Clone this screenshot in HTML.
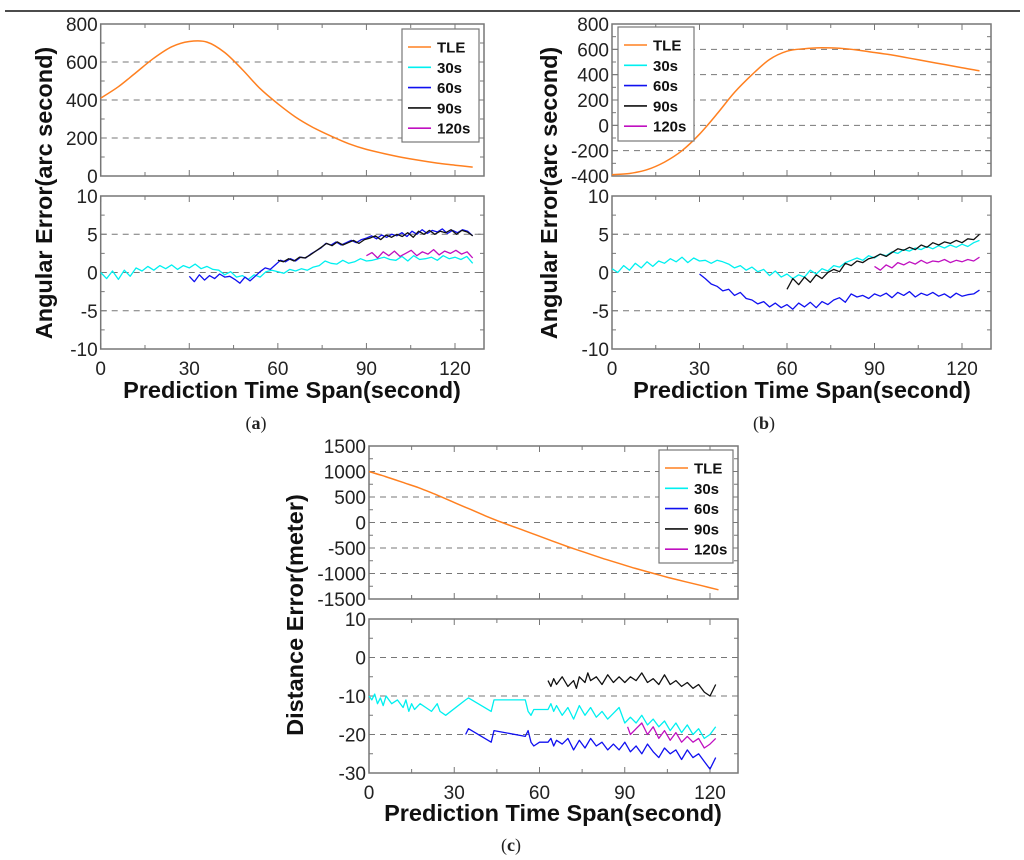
<!DOCTYPE html>
<html><head><meta charset="utf-8">
<style>
body{margin:0;background:#fff;width:1024px;height:860px;overflow:hidden}
svg{display:block}
text{font-family:"Liberation Sans",Arial,sans-serif;fill:#222}
.tk{font-size:19px}
.ttl{font-size:23.5px;font-weight:bold;fill:#111}
.lg{font-size:15px;font-weight:bold;fill:#111}
.cap{font-family:"Liberation Serif",serif;font-size:18px}
</style></head>
<body>
<svg id="fig" width="1024" height="860">
<line x1="5" y1="11" x2="1020" y2="11" stroke="#111" stroke-width="1.5"/>
</svg>
<script>
// ---------- data ----------
const colors = {TLE:"#ff8020","30s":"#00f0f0","60s":"#1010f0","90s":"#111111","120s":"#c010c0"};
const legendNames = ["TLE","30s","60s","90s","120s"];
const xTicks = [0,30,60,90,120];
// panel a
const aTopTicks = [0,200,400,600,800];
const aBotTicks = [-10,-5,0,5,10];
const aTLE = [410,470,545,620,680,708,705,650,560,460,380,310,255,210,170,140,118,98,82,68,57,47];
const a30 = [0,-0.8,0.2,-0.9,0.3,-0.5,0.6,0.2,0.8,0.3,0.9,0.5,1,0.4,0.9,0.6,1.1,0.5,0.8,0.4,0.3,-0.3,0.1,-0.6,-0.4,-0.9,-0.3,-0.6,0.1,0.3,0.1,-0.1,0.4,0.2,0.5,0.3,0.7,0.9,1.5,1.2,1.1,1.6,1.2,1.4,1.8,1.5,1.6,1.8,2,1.7,1.6,2.1,1.5,2.2,1.7,1.8,2,1.6,2.2,1.8,2.0,1.7,2.1,1.2];
const a60 = [-0.5,-1.2,-0.3,-1,-0.4,-0.8,-0.2,-0.6,-0.5,-0.9,-1.4,-0.6,-1.1,-0.5,0.1,0.6,0.4,1,1.6,1.4,1.8,1.5,2,1.9,2.4,2.8,3.2,3.8,3.6,4,3.6,3.9,4.2,3.9,4.3,4.5,4.8,4.4,4.9,4.6,5,4.8,5.2,4.7,5.4,5,5.6,5.1,5.5,5.3,5.7,5.1,5.5,5.2,5.6,5.4,4.8];
const a90 = [1.6,1.4,1.8,1.5,2,1.9,2.3,2.8,3.3,3.8,3.5,4,3.6,3.9,4.2,3.8,4.3,4.5,4.8,4.3,4.9,4.6,5,4.7,5.2,4.6,5.4,5,5.5,5,5.4,5.2,5.6,5.0,5.5,5.3,4.8];
const a120 = [2.2,2.6,1.9,2.7,2.2,2.8,2.1,2.5,2.9,2.2,2.7,2.4,3,2.3,2.8,2.5,2.9,2.4,2.7,1.9];
// panel b
const bTopTicks = [-400,-200,0,200,400,600,800];
const bBotTicks = [-10,-5,0,5,10];
const bTLE = [-390,-380,-350,-290,-200,-70,90,260,400,520,585,605,612,608,595,575,555,530,505,480,455,430];
const b30 = [0.5,0,0.9,0.3,1.2,0.6,1.4,0.8,1.5,1.2,1.8,1.4,2,1.3,1.9,1.5,1.6,1.2,1.6,1.4,1.1,0.6,0.9,0.3,0.7,0.1,0.4,-0.4,0.2,-0.6,-0.2,-0.8,-0.3,-0.6,0.3,-0.2,0.5,0.2,0.9,0.7,1.3,1.6,1.9,1.6,2.2,1.9,2.4,2.2,2.7,2.5,3,2.8,3.2,3,3.4,3.1,3.5,3.2,3.6,3.3,3.7,3.4,3.9,4.2];
const b60 = [-0.2,-0.8,-1.5,-1.8,-2.4,-2.2,-3,-2.6,-3.4,-3.6,-4.1,-3.8,-4.5,-4,-4.6,-4.2,-4.8,-4,-4.5,-3.9,-4.6,-3.8,-4.2,-3.6,-3.3,-3.9,-2.8,-3.2,-3,-3.4,-2.8,-3.1,-2.7,-3.3,-2.6,-3,-2.5,-3.2,-2.7,-3,-2.6,-3.1,-2.8,-3.3,-2.7,-3.1,-2.9,-2.8,-2.3];
const b90 = [-2.2,-0.8,-1.6,-0.6,-1.3,-0.3,-0.8,0,0.4,0.1,1.2,0.9,1.5,1.3,1.8,2,2.4,2.1,2.6,3.1,2.9,3.3,3,3.6,3.3,3.9,3.6,4,3.8,4.2,3.9,4.4,4.3,5];
const b120 = [0.8,0.3,1,0.6,1.3,1,1.4,1.1,1.6,1.2,1.5,1.4,1.7,1.3,1.6,1.4,1.7,1.5,2];
// panel c
const cTopTicks = [-1500,-1000,-500,0,500,1000,1500];
const cBotTicks = [-30,-20,-10,0,10];
const cTLE = [1000,900,790,680,550,410,270,130,0,-120,-240,-360,-480,-590,-700,-800,-900,-990,-1080,-1160,-1240,-1320];
const c30t = [0,1,2,3,4,5,6,7,8,10,12,13,14,15,16,18,20,22,24,25,27,34,35,43,44,55,56,57,58,63,64,65,66,68,70,72,74,76,78,80,82,84,86,88,90,92,94,96,98,100,102,104,106,108,110,112,114,116,118,120,122];
const c30v = [-10,-11,-9.5,-12,-10.5,-12.5,-10,-11,-12,-11,-13,-11,-14,-12,-13.5,-12,-13,-14,-12,-14,-15,-11,-10.5,-14,-11,-11,-14,-15,-13.5,-13.5,-12,-14,-12.5,-15,-13,-16,-12.5,-15,-13,-15.5,-14,-16,-14.5,-13,-17,-15.5,-17,-15,-17.5,-16,-18,-16.5,-19,-17,-19.5,-17.5,-20,-18.5,-21,-20,-18];
const c60t = [34,35,43,44,55,56,57,58,60,63,64,65,66,68,70,72,74,76,78,80,82,84,86,88,90,92,94,96,98,100,102,104,106,108,110,112,114,116,118,120,122];
const c60v = [-20,-18.5,-22,-19,-20.5,-19,-22,-23,-22,-22,-21,-23,-21.5,-22.5,-21,-24,-21.5,-23.5,-21,-23,-22,-24,-22.5,-24,-22,-24.5,-23,-25,-22.5,-24.5,-26,-23.5,-25,-24,-26.5,-24,-26,-25,-27,-29,-26];
const c90t = [63,64,65,66,68,70,72,73,74,76,77,78,80,82,84,86,88,90,92,94,96,98,100,102,104,106,108,110,112,114,116,118,120,122];
const c90v = [-6,-7.5,-5.5,-7,-5,-7.5,-6,-8,-5,-6.5,-4,-6,-5,-7,-4.5,-6.5,-5,-6.5,-5,-6,-4,-6.5,-5.5,-7,-4.5,-7,-6,-7.5,-6.5,-8,-7,-9,-10,-7];
const c120t = [91,92,94,96,98,100,102,104,106,108,110,112,114,116,118,120,122];
const c120v = [-18,-20,-18.5,-17,-20,-18,-21,-19,-21.5,-19.5,-22,-20.5,-22,-21,-23.5,-22.5,-21];

// ---------- drawing ----------
const NS="http://www.w3.org/2000/svg";
const svg=document.getElementById('fig');
function el(tag,attrs,parent){const e=document.createElementNS(NS,tag);for(const k in attrs)e.setAttribute(k,attrs[k]);(parent||svg).appendChild(e);return e;}
function evenTimes(vals,t0,t1){return vals.map((v,i)=>t0+i*(t1-t0)/(vals.length-1));}

function axes(g,box,xmax,ticks,showX,name){
  const sx=t=>box.x0+(t/120)*(box.x120-box.x0);
  const ymin=ticks[0],ymax=ticks[ticks.length-1];
  const sy=v=>box.yb+(v-ymin)/(ymax-ymin)*(box.yt-box.yb);
  ticks.slice(1,-1).forEach(v=>{
    const l=el('line',{x1:box.x0,x2:box.xr,y1:sy(v),y2:sy(v),stroke:'#777','stroke-dasharray':'6,5','stroke-width':1},g);
    
    
  });
  const r=el('rect',{x:box.x0,y:box.yt,width:box.xr-box.x0,height:box.yb-box.yt,fill:'none',stroke:'#777','stroke-width':1.5},g);
  
  
  for(let t=0;t<=xmax;t+=15){
    const len=t%30===0?6:4;
    el('line',{x1:sx(t),x2:sx(t),y1:box.yb,y2:box.yb-len,stroke:'#777'},g);
    el('line',{x1:sx(t),x2:sx(t),y1:box.yt,y2:box.yt+len,stroke:'#777'},g);
  }
  for(let i=0;i<ticks.length;i++){
    const v=ticks[i];
    el('line',{x1:box.x0,x2:box.x0+6,y1:sy(v),y2:sy(v),stroke:'#777'},g);
    el('line',{x1:box.xr,x2:box.xr-6,y1:sy(v),y2:sy(v),stroke:'#777'},g);
    if(i<ticks.length-1){const m=(v+ticks[i+1])/2;
      el('line',{x1:box.x0,x2:box.x0+4,y1:sy(m),y2:sy(m),stroke:'#777'},g);
      el('line',{x1:box.xr,x2:box.xr-4,y1:sy(m),y2:sy(m),stroke:'#777'},g);}
    const tx=el('text',{x:box.x0-3,y:sy(v)+7,'text-anchor':'end',class:'tk'},g);
    tx.textContent=v;
    
    
  }
  if(showX){xTicks.forEach(t=>{
    const tx=el('text',{x:sx(t),y:box.yb+26,'text-anchor':'middle',class:'tk'},g);
    tx.textContent=t;
    
    
  });}
  return {sx,sy};
}
function line(g,S,times,vals,color,name,w,smooth){
  const P=times.map((t,i)=>[S.sx(t),S.sy(vals[i])]);
  let d='M'+P[0][0].toFixed(1)+','+P[0][1].toFixed(1);
  for(let i=1;i<P.length;i++){
    if(smooth){
      const p0=P[Math.max(0,i-2)],p1=P[i-1],p2=P[i],p3=P[Math.min(P.length-1,i+1)];
      const c1=[p1[0]+(p2[0]-p0[0])/6,p1[1]+(p2[1]-p0[1])/6];
      const c2=[p2[0]-(p3[0]-p1[0])/6,p2[1]-(p3[1]-p1[1])/6];
      d+='C'+c1.map(v=>v.toFixed(1)).join(',')+' '+c2.map(v=>v.toFixed(1)).join(',')+' '+p2[0].toFixed(1)+','+p2[1].toFixed(1);
    } else d+='L'+P[i][0].toFixed(1)+','+P[i][1].toFixed(1);
  }
  const p=el('path',{d:d,fill:'none',stroke:color,'stroke-width':w||1.3,'stroke-linejoin':'round'},g);
  
  
}
function legend(g,x,y,w,h){
  const r=el('rect',{x:x,y:y,width:w,height:h,fill:'#fff',stroke:'#777','stroke-width':1.2},g);
  
  
  legendNames.forEach((n,i)=>{
    const yy=y+18+i*20.3;
    el('line',{x1:x+6,x2:x+29,y1:yy,y2:yy,stroke:colors[n],'stroke-width':1.6},g);
    const t=el('text',{x:x+35,y:yy+5.5,class:'lg'},g);
    t.textContent=n;
    
    
  });
}
function title(g,text,x,y,rot,name){
  const t=el('text',{x:x,y:y,'text-anchor':'middle',class:'ttl',transform:rot?`rotate(-90 ${x} ${y})`:''},g);
  t.textContent=text;
  
  
}
function cap(txt,x,y,name){
  const t=el('text',{x:x,y:y,'text-anchor':'middle',class:'cap'});
  t.innerHTML='('+'<tspan font-weight="bold">'+txt+'</tspan>)';
  
  
}

// panel a
{
  const g=el('g',{});
  
  
  const T=axes(g,{x0:100.7,x120:455,xr:484,yt:24,yb:176},126,aTopTicks,false,'panel-a-top');
  line(g,T,evenTimes(aTLE,0,126),aTLE,colors.TLE,'a-tle-line',1.5,true);
  legend(g,402,29,77,113);
  const B=axes(g,{x0:100.7,x120:455,xr:484,yt:196,yb:349},126,aBotTicks,true,'panel-a-bottom');
  line(g,B,evenTimes(a30,0,126),a30,colors['30s'],'a-30s-line');
  line(g,B,evenTimes(a60,30,126),a60,colors['60s'],'a-60s-line');
  line(g,B,evenTimes(a90,60,126),a90,colors['90s'],'a-90s-line');
  line(g,B,evenTimes(a120,90,126),a120,colors['120s'],'a-120s-line');
  title(g,'Angular Error(arc second)',52,193,true,'a-y-axis-title');
  title(g,'Prediction Time Span(second)',292,398,false,'a-x-axis-title');
  cap('a',256,429,'caption-a');
}
// panel b
{
  const g=el('g',{});
  
  
  const T=axes(g,{x0:612,x120:962,xr:991,yt:24,yb:176},126,bTopTicks,false,'panel-b-top');
  line(g,T,evenTimes(bTLE,0,126),bTLE,colors.TLE,'b-tle-line',1.5,true);
  legend(g,618,27,76,114);
  const B=axes(g,{x0:612,x120:962,xr:991,yt:196,yb:349},126,bBotTicks,true,'panel-b-bottom');
  line(g,B,evenTimes(b30,0,126),b30,colors['30s'],'b-30s-line');
  line(g,B,evenTimes(b60,30,126),b60,colors['60s'],'b-60s-line');
  line(g,B,evenTimes(b90,60,126),b90,colors['90s'],'b-90s-line');
  line(g,B,evenTimes(b120,90,126),b120,colors['120s'],'b-120s-line');
  title(g,'Angular Error(arc second)',557,193,true,'b-y-axis-title');
  title(g,'Prediction Time Span(second)',802,398,false,'b-x-axis-title');
  cap('b',764,429,'caption-b');
}
// panel c
{
  const g=el('g',{});
  
  
  const T=axes(g,{x0:369,x120:710,xr:738,yt:446,yb:599},126,cTopTicks,false,'panel-c-top');
  line(g,T,evenTimes(cTLE,0,123),cTLE,colors.TLE,'c-tle-line',1.5,true);
  legend(g,659,450,74,113);
  const B=axes(g,{x0:369,x120:710,xr:738,yt:619,yb:773},126,cBotTicks,true,'panel-c-bottom');
  line(g,B,c30t,c30v,colors['30s'],'c-30s-line');
  line(g,B,c60t,c60v,colors['60s'],'c-60s-line');
  line(g,B,c90t,c90v,colors['90s'],'c-90s-line');
  line(g,B,c120t,c120v,colors['120s'],'c-120s-line');
  title(g,'Distance Error(meter)',303,615,true,'c-y-axis-title');
  title(g,'Prediction Time Span(second)',553,821,false,'c-x-axis-title');
  cap('c',511,851,'caption-c');
}
</script>
</body></html>
